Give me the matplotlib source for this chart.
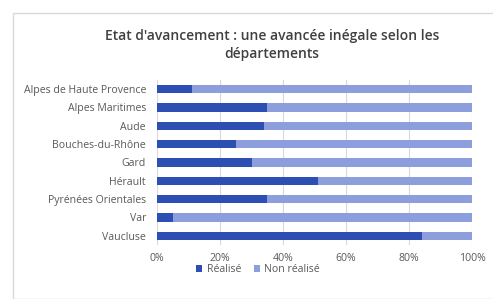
import matplotlib.pyplot as plt
from matplotlib.patches import Rectangle

plt.rcParams['font.family'] = ['Open Sans', 'DejaVu Sans']

categories = ["Alpes de Haute Provence", "Alpes Maritimes", "Aude", "Bouches-du-Rhône",
              "Gard", "Hérault", "Pyrénées Orientales", "Var", "Vaucluse"]
realise = [11, 35, 34, 25, 30, 51, 35, 5, 84]
non_realise = [100 - v for v in realise]
xticks = [0, 20, 40, 60, 80, 100]
xticklabels = ["0%", "20%", "40%", "60%", "80%", "100%"]

dark = "#2d4fb3"
light = "#8c9fdc"

fig = plt.figure(figsize=(4.93, 2.99), dpi=100)
fig.patches.append(Rectangle((13/493, 0), 1, 1 - 13/299, transform=fig.transFigure,
                             facecolor="white", edgecolor="#d9d9d9", linewidth=1.0,
                             zorder=-10))
ax = fig.add_axes([157/493, 1 - 245/299, 315/493, 165/299])
ax.set_facecolor("none")
y = list(range(len(categories)))
ax.barh(y, realise, height=0.45, color=dark, label="Réalisé", zorder=3)
ax.barh(y, non_realise, left=realise, height=0.45, color=light, label="Non réalisé", zorder=3)
ax.set_ylim(len(categories) - 0.5, -0.5)
ax.set_xlim(0, 100)
ax.set_yticks(y)
ax.set_yticklabels(categories, fontsize=7.6, color="#595959")
ax.set_xticks(xticks)
ax.set_xticklabels(xticklabels, fontsize=7.6, color="#595959")
ax.tick_params(length=0, pad=6)
ax.tick_params(axis="y", pad=8)
ax.grid(axis="x", color="#d9d9d9", linewidth=0.8, zorder=0)
for s in ax.spines.values():
    s.set_visible(False)
fig.text(272/493, 1 - 36/299, "Etat d'avancement : une avancée inégale selon les",
         ha="center", va="center", fontsize=10, color="#404040", fontweight="semibold")
fig.text(272/493, 1 - 54/299, "départements", ha="center", va="center", fontsize=10,
         color="#404040", fontweight="semibold")
leg = fig.legend(loc="center", bbox_to_anchor=(258/493, 1 - 270/299), ncol=2, frameon=False,
                 fontsize=7.6, handlelength=0.6, handleheight=0.6, columnspacing=1.2,
                 handletextpad=0.4)
for t in leg.get_texts():
    t.set_color("#595959")
fig.savefig("out.png", dpi=100)
